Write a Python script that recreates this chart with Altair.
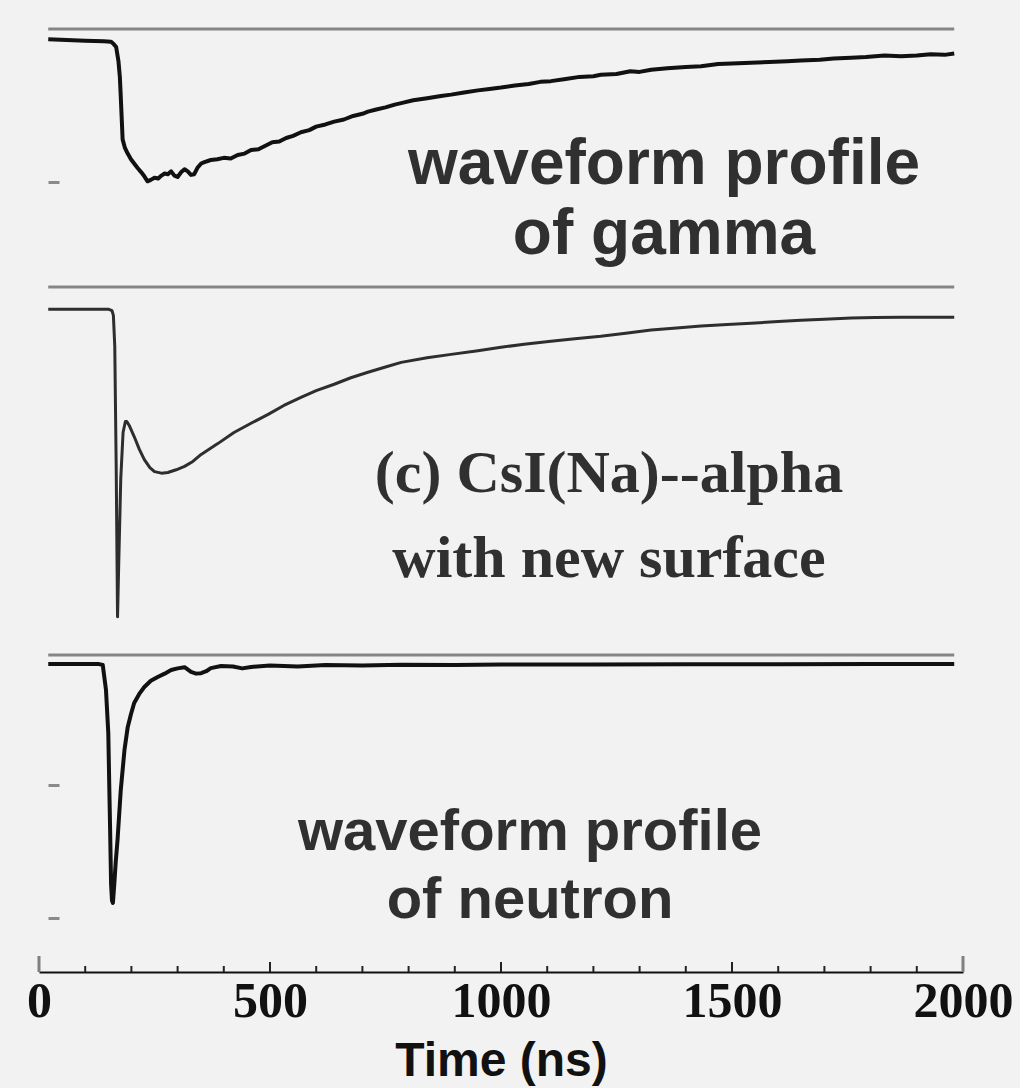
import altair as alt
import pandas as pd

gamma_t = [20, 60, 100, 140, 156, 162, 167, 172, 175, 177, 179, 181, 186, 192, 199,
           206, 213, 221, 228, 235, 242, 250, 258, 265, 272, 279, 286, 293, 300, 308,
           315, 322, 329, 336, 343, 351, 358, 372, 386, 400, 415, 430, 445, 459, 475,
           490, 505, 520, 535, 550, 567, 585, 600, 620, 639, 660, 680, 700, 712, 730,
           750, 770, 784, 810, 840, 870, 892, 920, 950, 975, 1000, 1030, 1060, 1085,
           1108, 1140, 1170, 1200, 1216, 1250, 1280, 1300, 1325, 1360, 1400, 1433,
           1470, 1500, 1541, 1580, 1620, 1649, 1690, 1720, 1758, 1790, 1830, 1866,
           1900, 1930, 1960, 1981]
gamma_v = [0.005, 0.0, -0.005, -0.01, -0.012, -0.03, -0.05, -0.15, -0.26, -0.40, -0.55,
           -0.70, -0.76, -0.80, -0.84, -0.87, -0.90, -0.93, -0.96, -0.995, -0.985, -0.97,
           -0.975, -0.955, -0.94, -0.945, -0.925, -0.955, -0.965, -0.93, -0.91, -0.925,
           -0.95, -0.945, -0.90, -0.87, -0.86, -0.845, -0.84, -0.83, -0.835, -0.81, -0.80,
           -0.775, -0.77, -0.745, -0.72, -0.715, -0.69, -0.675, -0.65, -0.635, -0.61,
           -0.595, -0.575, -0.56, -0.535, -0.52, -0.505, -0.49, -0.475, -0.455, -0.445,
           -0.425, -0.41, -0.395, -0.385, -0.37, -0.355, -0.345, -0.335, -0.32, -0.31,
           -0.295, -0.29, -0.275, -0.26, -0.255, -0.245, -0.24, -0.22, -0.225, -0.21,
           -0.20, -0.19, -0.185, -0.17, -0.165, -0.16, -0.155, -0.15, -0.145, -0.14,
           -0.13, -0.125, -0.12, -0.11, -0.115, -0.11, -0.10, -0.105, -0.095]

alpha_t = [20, 100, 150, 158, 161, 164, 167, 170, 173, 177, 182, 187, 190, 196, 206,
           217, 228, 240, 250, 265, 279, 297, 315, 333, 351, 387, 422, 460, 496, 530,
           567, 600, 639, 675, 712, 750, 784, 840, 892, 950, 1000, 1050, 1108, 1160,
           1216, 1270, 1325, 1380, 1433, 1490, 1541, 1600, 1649, 1700, 1758, 1810,
           1866, 1920, 1981]
alpha_v = [0.0, 0.0, 0.0, -0.005, -0.02, -0.12, -0.50, -1.0, -0.80, -0.55, -0.40,
           -0.365, -0.365, -0.38, -0.414, -0.455, -0.489, -0.515, -0.528, -0.533,
           -0.531, -0.522, -0.511, -0.495, -0.472, -0.437, -0.401, -0.37, -0.342,
           -0.313, -0.287, -0.265, -0.244, -0.223, -0.205, -0.188, -0.173, -0.158,
           -0.147, -0.135, -0.124, -0.114, -0.104, -0.096, -0.088, -0.078, -0.068,
           -0.061, -0.055, -0.05, -0.046, -0.04, -0.036, -0.033, -0.029, -0.027,
           -0.026, -0.026, -0.026]

neutron_t = [20, 60, 100, 130, 138, 145, 150, 152, 154, 156, 158, 160, 163, 166, 170,
             177, 185, 192, 199, 206, 217, 228, 242, 257, 272, 286, 300, 315, 329, 340,
             351, 362, 372, 394, 420, 440, 459, 500, 560, 620, 700, 784, 900, 1000,
             1200, 1400, 1600, 1800, 1981]
neutron_v = [0.0, 0.0, 0.0, 0.0, -0.004, -0.109, -0.289, -0.50, -0.70, -0.92, -0.99,
             -1.0, -0.92, -0.83, -0.736, -0.527, -0.36, -0.264, -0.21, -0.163, -0.125,
             -0.096, -0.07, -0.054, -0.04, -0.025, -0.018, -0.013, -0.033, -0.04,
             -0.038, -0.03, -0.017, -0.008, -0.01, -0.018, -0.012, -0.006, -0.01,
             -0.004, -0.006, -0.003, -0.004, -0.002, -0.002, -0.001, -0.001, 0.0, 0.0]

# record window and axis ticks
record_start, record_end = 20, 1981
major_ticks = [500, 1000, 1500]
end_ticks = [0, 2000]
minor_ticks = [100, 200, 300, 400, 600, 700, 800, 900, 1100, 1200, 1300, 1400,
               1600, 1700, 1800, 1900]
label_ticks = [0, 500, 1000, 1500, 2000]

PANEL_W = 924
X_SCALE = alt.Scale(domain=[0, 2000], nice=False, zero=False)


def panel(t, v, y_domain, stroke, line_w, level_ticks, texts, x_axis=None):
    df = pd.DataFrame({"t": t, "v": v, "i": range(len(t))})
    y_scale = alt.Scale(domain=y_domain, nice=False, zero=False)
    if level_ticks:
        y_axis = alt.Axis(values=level_ticks, orient="left", offset=-20, domain=False,
                          labels=False, ticks=True, tickSize=11, tickWidth=3,
                          tickColor="#8a8a8a", grid=False, title=None)
    else:
        y_axis = None
    x_enc = alt.X("t:Q", scale=X_SCALE, axis=x_axis)

    frame = alt.Chart(pd.DataFrame({"t": [record_start], "t2": [record_end],
                                    "v": [y_domain[1]]})).mark_rule(
        color="#858585", strokeWidth=3).encode(
        x=x_enc, x2="t2:Q", y=alt.Y("v:Q", scale=y_scale, axis=y_axis))

    trace = alt.Chart(df).mark_line(color=stroke, strokeWidth=line_w,
                                    strokeJoin="round").encode(
        x=x_enc, y=alt.Y("v:Q", scale=y_scale, axis=y_axis), order="i:Q")

    layers = [frame, trace]
    for s, px, py, font, size in texts:
        layers.append(
            alt.Chart(pd.DataFrame({"label": [s]})).mark_text(
                font=font, fontSize=size, fontWeight="bold", color="#303030",
                align="center", baseline="alphabetic").encode(
                x=alt.value(px), y=alt.value(py), text="label:N"))
    return layers


SANS = "Liberation Sans"
SERIF = "Liberation Serif"

g_layers = panel(gamma_t, gamma_v, [-1.739, 0.077], "#111111", 4, [-1.0],
                 [("waveform profile", 625, 155, SANS, 64),
                  ("of gamma", 625, 225, SANS, 64)])
a_layers = panel(alpha_t, alpha_v, [-1.124, 0.072], "#2e2e2e", 3, [],
                 [("(c) CsI(Na)--alpha", 570, 205, SERIF, 60),
                  ("with new surface", 570, 290, SERIF, 60)])

x_axis = alt.Axis(values=label_ticks, format="d", ticks=False, domain=True,
                  domainColor="#111111", domainWidth=2, labelFont=SERIF,
                  labelFontWeight="bold", labelFontSize=50, labelColor="#111111",
                  labelPadding=4, labelFlush=False, labelOverlap=False, grid=False,
                  title="Time (ns)", titleFont=SANS, titleFontSize=48,
                  titleFontWeight="bold", titleColor="#111111", titlePadding=11)
n_layers = panel(neutron_t, neutron_v, [-1.289, 0.038], "#111111", 4,
                 [-0.506, -1.063],
                 [("waveform profile", 491, 195, SANS, 58),
                  ("of neutron", 491, 263, SANS, 58)], x_axis=x_axis)

# upward ticks on the time axis
H1, H2, H3 = 258, 368, 317


def tick_layer(vals, length, color, width):
    return alt.Chart(pd.DataFrame({"t": vals})).mark_rule(
        color=color, strokeWidth=width).encode(
        x=alt.X("t:Q", scale=X_SCALE, axis=x_axis),
        y=alt.value(H3), y2=alt.value(H3 - length))


n_layers += [tick_layer(minor_ticks, 6, "#222222", 2),
             tick_layer(major_ticks, 10, "#222222", 2),
             tick_layer(end_ticks, 16, "#808080", 3)]

top = alt.layer(*g_layers).properties(width=PANEL_W, height=H1)
mid = alt.layer(*a_layers).properties(width=PANEL_W, height=H2)
bot = alt.layer(*n_layers).properties(width=PANEL_W, height=H3)

chart = alt.vconcat(top, mid, bot, spacing=0, bounds="flush").properties(
    background="#f2f2f2",
    padding={"left": 26, "top": 27, "right": 7, "bottom": 4},
).configure_view(stroke=None)

chart.save("out.html", embed_options={"renderer": "svg", "actions": False})
